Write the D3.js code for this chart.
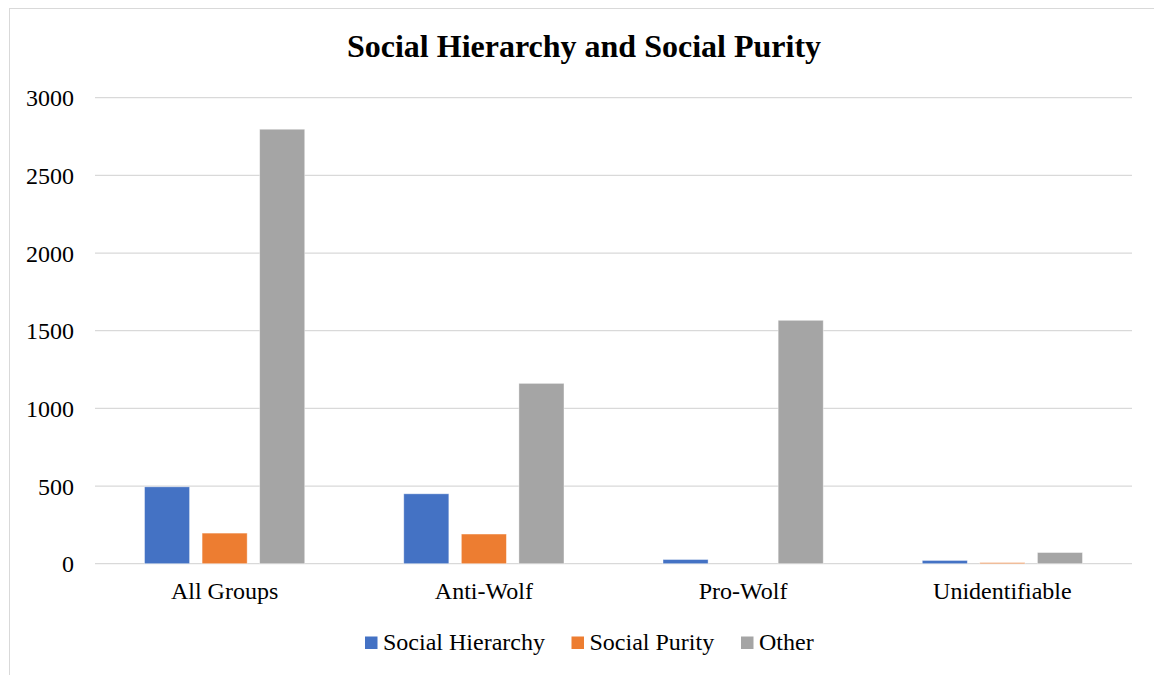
<!DOCTYPE html>
<html>
<head>
<meta charset="utf-8">
<script src="https://cdn.jsdelivr.net/npm/d3@7"></script>
<style>
  html, body { margin: 0; padding: 0; background: #fff; }
  svg { display: block; }
  text { font-family: "Liberation Serif", "Times New Roman", serif; fill: #000; }
</style>
</head>
<body>
<svg id="chart" width="1154" height="675"></svg>
<script>
const categories = ["All Groups", "Anti-Wolf", "Pro-Wolf", "Unidentifiable"];
const seriesNames = ["Social Hierarchy", "Social Purity", "Other"];
const socialHierarchy = [495, 450, 27, 21];
const socialPurity = [197, 191, 0, 7];
const other = [2797, 1161, 1567, 72];
const yTicks = [0, 500, 1000, 1500, 2000, 2500, 3000];
const colors = ["#4472C4", "#ED7D31", "#A5A5A5"];

(function () {
const seriesValues = [socialHierarchy, socialPurity, other];
const svg = d3.select("#chart");
const serif = "'Liberation Serif', 'Times New Roman', serif";

// chart border (Excel chart area)
svg.append("rect").attr("x", 9.5).attr("y", 8.5).attr("width", 1160).attr("height", 680)
  .attr("fill", "none").attr("stroke", "#d9d9d9").attr("stroke-width", 1);

const plotLeft = 95, plotRight = 1132, plotTop = 97.7, plotBottom = 563.7;

const x0 = d3.scaleBand().domain(categories).range([plotLeft, plotRight]).paddingInner(0.382).paddingOuter(0.191);
const x1 = d3.scaleBand().domain(seriesNames).range([0, x0.bandwidth()]).paddingInner(0.217).paddingOuter(0);
const y = d3.scaleLinear().domain([0, 3000]).range([plotBottom, plotTop]);

// gridlines
svg.append("g").selectAll("line").data(yTicks).join("line")
  .attr("x1", plotLeft).attr("x2", plotRight)
  .attr("y1", d => y(d)).attr("y2", d => y(d))
  .attr("stroke", "#d9d9d9").attr("stroke-width", 1.3);

// y axis labels
const yAxis = d3.axisLeft(y).tickValues(yTicks).tickSize(0).tickPadding(0).tickFormat(d3.format("d"));
const ya = svg.append("g").attr("transform", `translate(${plotLeft - 21},0)`).call(yAxis)
  .attr("font-family", serif).attr("font-size", 24);
ya.select(".domain").remove();
ya.selectAll("text").attr("fill", "#000").attr("dy", "0.34em");

// bars
const groups = svg.append("g").selectAll("g").data(categories).join("g")
  .attr("transform", d => `translate(${x0(d)},0)`);
groups.selectAll("rect").data((c, i) => seriesNames.map((s, j) => ({ s, j, v: seriesValues[j][i] })))
  .join("rect")
  .attr("x", d => x1(d.s))
  .attr("width", x1.bandwidth())
  .attr("y", d => y(d.v))
  .attr("height", d => y(0) - y(d.v))
  .attr("fill", d => colors[d.j])
  .attr("stroke", "#ffffff").attr("stroke-opacity", 0.5).attr("stroke-width", 0.8);

// x axis labels
const xAxis = d3.axisBottom(x0).tickSize(0).tickPadding(0);
const xa = svg.append("g").attr("transform", `translate(0,${plotBottom + 18})`).call(xAxis)
  .attr("font-family", serif).attr("font-size", 24);
xa.select(".domain").remove();
xa.selectAll("text").attr("fill", "#000").attr("dy", "0.71em");

// title
svg.append("text").attr("x", 584).attr("y", 57).attr("text-anchor", "middle")
  .attr("font-family", serif).attr("font-size", 32).attr("font-weight", "bold")
  .text("Social Hierarchy and Social Purity");

// legend
const legendX = [365, 571.5, 741];
const lg = svg.append("g").attr("font-family", serif).selectAll("g").data(seriesNames).join("g")
  .attr("transform", (d, i) => `translate(${legendX[i]},636.5)`);
lg.append("rect").attr("width", 12.5).attr("height", 12.5).attr("fill", (d, i) => colors[i]);
lg.append("text").attr("x", 18).attr("y", 13.5).attr("font-size", 24).text(d => d);
})();
</script>
</body>
</html>
